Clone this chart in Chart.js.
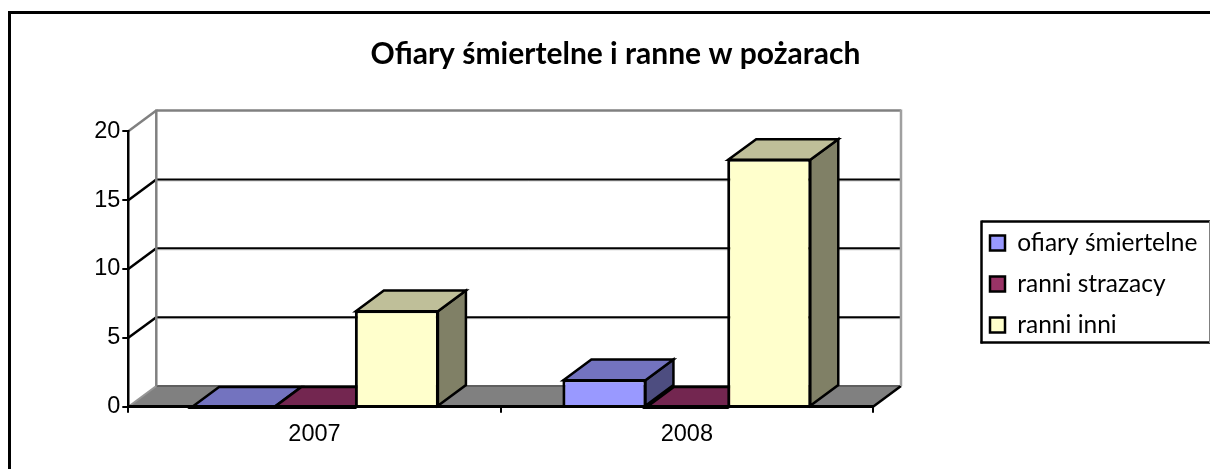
<!DOCTYPE html>
<html>
<head>
<meta charset="utf-8">
<script src="https://cdn.jsdelivr.net/npm/chart.js@4/dist/chart.umd.min.js"></script>
<style>
  html, body { margin: 0; padding: 0; background: #fff; }
  canvas { display: block; }
</style>
</head>
<body>
<canvas id="fireChart" width="1210" height="469"></canvas>
<script>
const categories = ['2007', '2008'];
const seriesNames = ['ofiary śmiertelne', 'ranni strazacy', 'ranni inni'];
const ofiaryValues = [0, 2];
const strazacyValues = [0, 0];
const inniValues = [7, 18];
const yTicks = [0, 5, 10, 15, 20];

const frontColors = ['#9999ff', '#993366', '#ffffcc'];
const topColors = ['#7373bf', '#732650', '#bfbf99'];
const sideColors = ['#4d4d80', '#4d1a33', '#808066'];

// 3D look: how far the back wall sits behind the front plane
const depthX = 28;
const depthY = 20.7;

function poly(ctx, pts, fill, stroke, lineWidth) {
    ctx.beginPath();
    pts.forEach((p, i) => i ? ctx.lineTo(p[0], p[1]) : ctx.moveTo(p[0], p[1]));
    ctx.closePath();
    if (fill) { ctx.fillStyle = fill; ctx.fill(); }
    if (stroke) { ctx.strokeStyle = stroke; ctx.lineWidth = lineWidth; ctx.lineJoin = 'miter'; ctx.stroke(); }
}

function line(ctx, x1, y1, x2, y2, color, lineWidth) {
    ctx.beginPath();
    ctx.moveTo(x1, y1);
    ctx.lineTo(x2, y2);
    ctx.strokeStyle = color;
    ctx.lineWidth = lineWidth;
    ctx.stroke();
}

const walls3d = {
    id: 'walls3d',
    beforeLayout(chart) {
        // the legend floats in its own frame, so it must not take room from the plot
        const legend = chart.legend;
        if (!legend._floating) {
            const fit = legend.fit;
            legend.fit = function () {
                fit.call(this);
                this.width = 0;
            };
            legend._floating = true;
        }
    },
    afterLayout(chart) {
        // title is centred over the plot + legend, legend sits in its own frame
        chart.titleBlock.left = 21;
        chart.titleBlock.right = 1210;
        chart.legend.left = 973.5;
        chart.legend.right = 1210;
        chart.legend.top = 214.25;
        chart.legend.bottom = 360;
    },
    beforeDraw(chart) {
        const ctx = chart.ctx;
        const x = chart.scales.x;
        const y = chart.scales.y;
        const left = x.left, right = x.right, floorY = y.getPixelForValue(0);
        ctx.save();

        // outer frame, open on the right and at the bottom
        line(ctx, 9.5, 12.5, 1210, 12.5, '#000', 3);
        line(ctx, 9.5, 11, 9.5, 469, '#000', 3);

        // floor
        poly(ctx, [[left, floorY], [right, floorY], [right + depthX, floorY - depthY], [left + depthX, floorY - depthY]], '#808080');
        line(ctx, left + depthX, floorY - depthY, right + depthX, floorY - depthY, '#5f5f5f', 2);
        line(ctx, left, floorY, left + depthX, floorY - depthY, '#969696', 2);
        line(ctx, right, floorY, right + depthX, floorY - depthY, '#000', 2.5);

        // back wall gridlines and their slant on the side wall
        yTicks.forEach(v => {
            if (v === 0) return;
            const py = y.getPixelForValue(v);
            const isTop = v === yTicks[yTicks.length - 1];
            const c = isTop ? '#808080' : '#000';
            line(ctx, left, py, left + depthX, py - depthY, c, 2.5);
            if (!isTop) line(ctx, left + depthX, py - depthY + 1.5, right + depthX, py - depthY + 1.5, '#c4c4c4', 1);
            line(ctx, left + depthX, py - depthY, right + depthX, py - depthY, c, isTop ? 2.5 : 2);
        });
        const wallTop = y.getPixelForValue(20) - depthY;
        line(ctx, left + depthX, wallTop - 1, left + depthX, floorY - depthY, '#808080', 2.5);
        line(ctx, right + depthX, wallTop - 1, right + depthX, floorY - depthY, '#a0a0a0', 2.5);

        // legend frame
        line(ctx, 981.5, 221.5, 1210, 221.5, '#000', 2.5);
        line(ctx, 981.5, 220.5, 981.5, 343.5, '#000', 2.5);
        line(ctx, 980.5, 342.5, 1210, 342.5, '#000', 2.5);
        line(ctx, 1209.5, 221, 1209.5, 343, '#808080', 1);
        ctx.restore();
    },
    beforeDatasetsDraw(chart) {
        const ctx = chart.ctx;
        chart.data.datasets.forEach((ds, i) => {
            chart.getDatasetMeta(i).data.forEach(bar => {
                const l = bar.x - bar.width / 2;
                const r = bar.x + bar.width / 2 - 1;
                const t = bar.y + 1;
                const b = bar.base;
                if (t < b) {
                    poly(ctx, [[r, t], [r + depthX, t - depthY], [r + depthX, b - depthY], [r, b]], sideColors[i], '#000', 2.5);
                }
                poly(ctx, [[l + 1, t], [l + 1 + depthX, t - depthY], [r + depthX, t - depthY], [r, t]], topColors[i], '#000', 2.5);
            });
        });
    }
};

const seriesValues = [ofiaryValues, strazacyValues, inniValues];

const ctx = document.getElementById('fireChart').getContext('2d');
// tiny spacing keeps "fi" from turning into a ligature
ctx.letterSpacing = '0.01px';

new Chart(ctx, {
    type: 'bar',
    data: {
        labels: categories,
        datasets: seriesNames.map((name, i) => ({
            label: name,
            data: seriesValues[i],
            backgroundColor: frontColors[i],
            borderColor: '#000',
            borderWidth: 3,
            categoryPercentage: 0.664,
            barPercentage: 1.02
        }))
    },
    options: {
        responsive: false,
        animation: false,
        layout: { padding: { left: 0, right: 337, top: 0, bottom: 0 } },
        scales: {
            x: {
                grid: { drawOnChartArea: false, drawTicks: true, tickLength: 6, color: '#000', lineWidth: 2, offset: true },
                border: { display: true, color: '#000', width: 3, z: 1 },
                ticks: { color: '#000', padding: 8, font: { family: 'Liberation Sans', size: 23.5 } },
                afterFit(scale) { scale.height = 62.3; }
            },
            y: {
                min: 0,
                max: 20,
                ticks: { stepSize: 5, color: '#000', padding: 2, font: { family: 'Liberation Sans', size: 23.5 } },
                grid: { drawOnChartArea: false, drawTicks: true, tickLength: 6, color: '#000', lineWidth: 2 },
                border: { display: true, color: '#000', width: 2.5 },
                afterFit(scale) { scale.width = 128.3; }
            }
        },
        plugins: {
            title: {
                display: true,
                text: 'Ofiary śmiertelne i ranne w pożarach',
                color: '#000',
                font: { family: 'Lato', size: 30, weight: 'bold' },
                padding: { top: 36, bottom: 59.3 }
            },
            legend: {
                position: 'right',
                align: 'start',
                labels: {
                    color: '#000',
                    boxWidth: 15,
                    boxHeight: 15,
                    padding: 16.5,
                    font: { family: 'Lato', size: 24.5 },
                    generateLabels(chart) {
                        return Chart.defaults.plugins.legend.labels.generateLabels(chart)
                            .map(item => Object.assign(item, { lineWidth: 2.5 }));
                    }
                }
            },
            tooltip: { enabled: false }
        }
    },
    plugins: [walls3d]
});
</script>
</body>
</html>
